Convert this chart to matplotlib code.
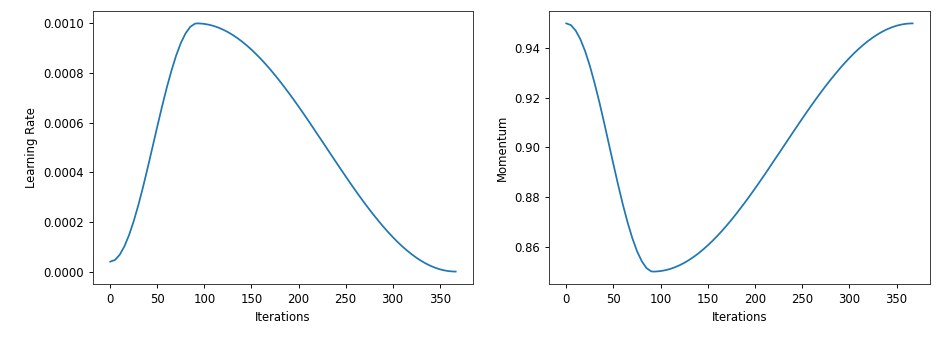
import matplotlib
matplotlib.use("Agg")
import matplotlib.pyplot as plt

# values, every 5 iterations (peak near 92)
iterations = [0, 5, 10, 15, 20, 25, 30, 35, 40, 45, 50, 55, 60, 65, 70, 75, 80, 85, 90, 92,
              95, 100, 105, 110, 115, 120, 125, 130, 135, 140, 145, 150, 155, 160, 165, 170,
              175, 180, 185, 190, 195, 200, 205, 210, 215, 220, 225, 230, 235, 240, 245, 250,
              255, 260, 265, 270, 275, 280, 285, 290, 295, 300, 305, 310, 315, 320, 325, 330,
              335, 340, 345, 350, 355, 360, 365, 367]
learning_rate = [0.0000400, 0.0000470, 0.0000677, 0.0001016, 0.0001477, 0.0002045, 0.0002704,
                 0.0003438, 0.0004223, 0.0005036, 0.0005854, 0.0006653, 0.0007409, 0.0008097,
                 0.0008708, 0.0009213, 0.0009599, 0.0009862, 0.0009989, 0.0010000,
                 0.0009997, 0.0009979, 0.0009945, 0.0009895, 0.0009828, 0.0009746, 0.0009649,
                 0.0009536, 0.0009409, 0.0009267, 0.0009111, 0.0008942, 0.0008760, 0.0008566,
                 0.0008360, 0.0008143, 0.0007916, 0.0007679, 0.0007432, 0.0007180, 0.0006920,
                 0.0006653, 0.0006381, 0.0006105, 0.0005823, 0.0005537, 0.0005257, 0.0004971,
                 0.0004686, 0.0004402, 0.0004120, 0.0003842, 0.0003564, 0.0003293, 0.0003027,
                 0.0002768, 0.0002517, 0.0002273, 0.0002041, 0.0001813, 0.0001598, 0.0001396,
                 0.0001202, 0.0001023, 0.0000857, 0.0000704, 0.0000565, 0.0000440, 0.0000330,
                 0.0000236, 0.0000157, 0.0000094, 0.0000047, 0.0000016, 0.0000001, 0.0000000]
momentum = [0.9500, 0.9493, 0.9471, 0.9436, 0.9388, 0.9329, 0.9260, 0.9184, 0.9102, 0.9017,
            0.8932, 0.8849, 0.8770, 0.8698, 0.8635, 0.8582, 0.8542, 0.8514, 0.8501, 0.8500,
            0.85003, 0.85021, 0.85055, 0.85105, 0.85172, 0.85254, 0.85351, 0.85464, 0.85591,
            0.85733, 0.85889, 0.86058, 0.86240, 0.86434, 0.86640, 0.86857, 0.87084, 0.87321,
            0.87568, 0.87820, 0.88080, 0.88347, 0.88619, 0.88895, 0.89177, 0.89463, 0.89743,
            0.90029, 0.90314, 0.90598, 0.90880, 0.91159, 0.91436, 0.91707, 0.91973, 0.92232,
            0.92484, 0.92727, 0.92959, 0.93187, 0.93402, 0.93604, 0.93798, 0.93977, 0.94143,
            0.94297, 0.94435, 0.94560, 0.94670, 0.94764, 0.94843, 0.94906, 0.94953, 0.94984,
            0.94999, 0.95000]

plt.rcParams['font.family'] = ['DejaVu Sans']
plt.rcParams['font.size'] = 8.4
plt.rcParams['axes.linewidth'] = 0.67
plt.rcParams['xtick.major.size'] = 2.9
plt.rcParams['ytick.major.size'] = 2.9
plt.rcParams['xtick.major.width'] = 0.67
plt.rcParams['ytick.major.width'] = 0.67

fig = plt.figure(figsize=(9.53, 3.38), dpi=100)
ax1 = fig.add_axes([0.0976, 0.1598, 0.3987, 0.8077])
ax2 = fig.add_axes([0.576, 0.1598, 0.3998, 0.8077])

ax1.plot(iterations, learning_rate, color='#1f77b4', linewidth=1.26)
ax1.set_xlabel('Iterations')
ax1.set_ylabel('Learning Rate')
ax1.set_xticks([0, 50, 100, 150, 200, 250, 300, 350])

ax2.plot(iterations, momentum, color='#1f77b4', linewidth=1.26)
ax2.set_xlabel('Iterations')
ax2.set_ylabel('Momentum')
ax2.set_xticks([0, 50, 100, 150, 200, 250, 300, 350])
ax2.set_yticks([0.86, 0.88, 0.90, 0.92, 0.94])
ax2.set_yticklabels(['0.86', '0.88', '0.90', '0.92', '0.94'])

for ax in (ax1, ax2):
    for s in ax.spines.values():
        s.set_color('#333333')

fig.savefig('out.png', dpi=100)
